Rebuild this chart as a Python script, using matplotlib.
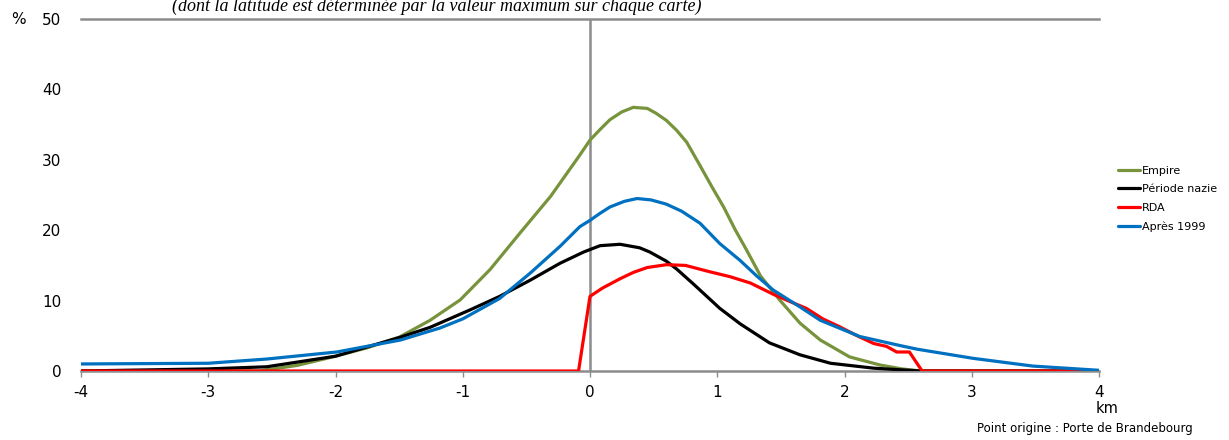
import matplotlib.pyplot as plt
import numpy as np

plt.rcParams['axes.unicode_minus'] = False

# distance to Brandenburg Gate (km) and share (%)
empire_x = [-4, -2.6, -2.3, -2.0, -1.75, -1.5, -1.257, -1.02, -0.786, -0.55, -0.31, -0.079, 0.0,
            0.079, 0.157, 0.25, 0.34, 0.45, 0.52, 0.6, 0.68, 0.76, 0.864, 0.96, 1.05, 1.14,
            1.23, 1.34, 1.49, 1.65, 1.81, 2.04, 2.28, 2.45, 2.6, 4]
empire_y = [0, 0, 0.8, 2.1, 3.3, 4.8, 7.2, 10.1, 14.4, 19.6, 24.8, 30.7, 32.8,
            34.3, 35.7, 36.8, 37.45, 37.3, 36.6, 35.6, 34.2, 32.5, 29.2, 26.1, 23.3, 20.1,
            17.2, 13.5, 10.1, 6.8, 4.4, 2.0, 0.85, 0.3, 0, 0]

nazi_x = [-4, -3.0, -2.54, -2.0, -1.49, -1.257, -0.94, -0.71, -0.47, -0.236, -0.05, 0.079,
          0.236, 0.39, 0.47, 0.6, 0.68, 0.81, 0.864, 1.02, 1.18, 1.41, 1.65, 1.89, 2.23, 2.6, 4]
nazi_y = [0, 0.3, 0.6, 2.1, 4.8, 6.2, 8.7, 10.6, 12.9, 15.3, 16.9, 17.8,
          18.0, 17.5, 16.9, 15.6, 14.5, 12.4, 11.5, 8.9, 6.7, 4.0, 2.3, 1.1, 0.4, 0, 0]

rda_x = [-4, -0.09, 0.0, 0.1, 0.236, 0.34, 0.45, 0.6, 0.75, 0.94, 1.1, 1.26, 1.44, 1.58,
         1.70, 1.83, 1.96, 2.1, 2.23, 2.33, 2.41, 2.51, 2.61, 4]
rda_y = [0, 0, 10.6, 11.8, 13.1, 14.0, 14.7, 15.1, 15.0, 14.1, 13.4, 12.5, 10.9, 9.8,
         8.9, 7.4, 6.3, 5.0, 3.9, 3.5, 2.7, 2.7, 0, 0]

apres_x = [-4, -3.0, -2.54, -1.99, -1.49, -1.18, -1.0, -0.86, -0.71, -0.47, -0.236, -0.08,
           0.0, 0.079, 0.157, 0.27, 0.37, 0.48, 0.6, 0.72, 0.864, 1.02, 1.18, 1.31, 1.44,
           1.65, 1.81, 2.12, 2.44, 2.57, 3.01, 3.48, 4.0]
apres_y = [1.0, 1.1, 1.7, 2.7, 4.4, 6.1, 7.4, 8.8, 10.3, 13.9, 17.7, 20.5,
           21.4, 22.4, 23.3, 24.1, 24.5, 24.3, 23.7, 22.7, 21.0, 18.1, 15.7, 13.5, 11.5,
           9.1, 7.2, 4.9, 3.6, 3.1, 1.8, 0.7, 0.1]

series = [
    ("Empire", empire_x, empire_y, "#77933C"),
    ("Période nazie", nazi_x, nazi_y, "black"),
    ("RDA", rda_x, rda_y, "#FF0000"),
    ("Après 1999", apres_x, apres_y, "#0070C0"),
]

fig = plt.figure(figsize=(12.29, 4.4), dpi=100)
ax = fig.add_axes([81 / 1229, 1 - 371 / 440, (1099 - 81) / 1229, (371 - 19) / 440])

grey = "#8C8C8C"
ax.axvline(0, color=grey, lw=1.8, zorder=1)

for name, xs, ys, col in series:
    ax.plot(xs, ys, color=col, lw=2.3, label=name, zorder=3,
            solid_joinstyle="round", solid_capstyle="round")

ax.set_xlim(-4, 4)
ax.set_ylim(0, 50)
ax.set_xticks(np.arange(-4, 5, 1))
ax.set_yticks([0, 10, 20, 30, 40, 50])
ax.tick_params(axis="x", direction="out", length=4, width=1, color=grey, labelsize=11, pad=6)
ax.tick_params(axis="y", length=0, labelsize=11, pad=14)

for s in ["left", "right"]:
    ax.spines[s].set_visible(False)
ax.spines["top"].set_color(grey)
ax.spines["top"].set_linewidth(1.8)
ax.spines["bottom"].set_color(grey)
ax.spines["bottom"].set_linewidth(1.8)

fig.text(18 / 1229, 1 - 20 / 440, "%", fontsize=11, ha="center", va="center")
fig.text(1107 / 1229, 1 - 408 / 440, "km", fontsize=10.5, ha="center", va="center")
fig.text(1193 / 1229, 1 - 428 / 440, "Point origine : Porte de Brandebourg", fontsize=8.5,
         ha="right", va="center")
fig.text(437 / 1229, 1 - 6 / 440,
         "(dont la latitude est déterminée par la valeur maximum sur chaque carte)",
         fontsize=13, family="Liberation Serif", style="italic", ha="center", va="center")

fig.legend(loc="upper left", bbox_to_anchor=(1108 / 1229, 1 - 156 / 440), frameon=False,
           fontsize=8, handlelength=2.0, handletextpad=0.15, labelspacing=0.75)

fig.savefig("out.png", dpi=100)
